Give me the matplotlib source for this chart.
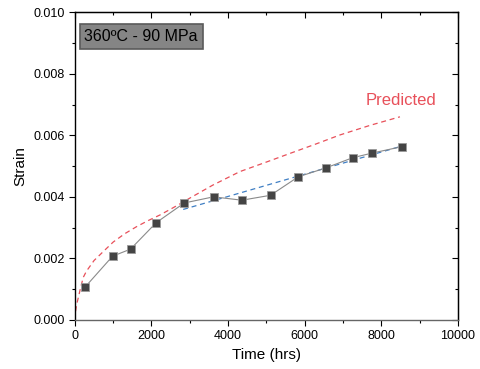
import matplotlib
matplotlib.use("Agg")
import matplotlib.pyplot as plt
from matplotlib.ticker import MultipleLocator, FormatStrFormatter

plt.rcParams['font.family'] = ['Liberation Sans', 'DejaVu Sans']

# measured creep strain
time_hrs = [261, 983, 1453, 2123, 2855, 3620, 4360, 5108, 5831, 6554, 7250, 7755, 8538]
strain = [0.00106, 0.00207, 0.00230, 0.00316, 0.00380, 0.00400, 0.00389, 0.00405,
          0.00465, 0.00494, 0.00527, 0.00542, 0.00563]

# predicted curve
pred_time = [0, 20, 50, 100, 150, 218, 300, 500, 740, 1000, 1300, 1610, 1900, 2220, 2500,
             2785, 3003, 3600, 4308, 5000, 5614, 6300, 6919, 7700, 8486]
pred_strain = [0.0, 0.00030, 0.00052, 0.00078, 0.00105, 0.00138, 0.00158, 0.00193, 0.00222,
               0.00253, 0.00280, 0.00303, 0.00322, 0.00341, 0.00360, 0.00380, 0.00396,
               0.00438, 0.00482, 0.00513, 0.00541, 0.00572, 0.00601, 0.00632, 0.00660]

# linear fit of secondary stage
fit_time = [2828, 8538]
fit_strain = [0.00359, 0.00565]

fig = plt.figure(figsize=(4.8, 3.69), dpi=100)
ax = fig.add_axes([0.156, 0.133, 0.798, 0.834])

ax.plot(pred_time, pred_strain, color='#e8505a', lw=0.9, ls=(0, (4, 3)))
ax.plot(fit_time, fit_strain, color='#3f7fc4', lw=0.9, ls=(0, (4, 3)))
ax.plot(time_hrs, strain, color='#8a8a8a', lw=0.8, marker='s', markersize=6,
        markerfacecolor='#444444', markeredgecolor='#9a9a9a', markeredgewidth=0.6)

ax.set_xlim(0, 10000)
ax.set_ylim(0, 0.010)
ax.xaxis.set_major_locator(MultipleLocator(2000))
ax.xaxis.set_minor_locator(MultipleLocator(1000))
ax.yaxis.set_major_locator(MultipleLocator(0.002))
ax.yaxis.set_minor_locator(MultipleLocator(0.001))
ax.yaxis.set_major_formatter(FormatStrFormatter('%.3f'))
ax.tick_params(which='both', labelsize=9, width=0.8, direction='out')
ax.tick_params(which='major', length=4)
ax.tick_params(which='minor', length=2.5)

# top and right ticks point inward, no labels
top = ax.secondary_xaxis('top')
top.xaxis.set_major_locator(MultipleLocator(2000))
top.xaxis.set_minor_locator(MultipleLocator(1000))
top.tick_params(which='both', direction='in', labeltop=False, width=0.8)
top.tick_params(which='major', length=4)
top.tick_params(which='minor', length=2.5)
right = ax.secondary_yaxis('right')
right.yaxis.set_major_locator(MultipleLocator(0.002))
right.yaxis.set_minor_locator(MultipleLocator(0.001))
right.tick_params(which='both', direction='in', labelright=False, width=0.8)
right.tick_params(which='major', length=4)
right.tick_params(which='minor', length=2.5)

for sp in ax.spines.values():
    sp.set_linewidth(1.0)
ax.spines['bottom'].set_color('#666666')

ax.set_xlabel('Time (hrs)', fontsize=11)
ax.set_ylabel('Strain', fontsize=11)

ax.text(0.025, 0.945, '360ºC - 90 MPa', transform=ax.transAxes, fontsize=11.5,
        va='top', ha='left',
        bbox=dict(boxstyle='square,pad=0.3', facecolor='#858585', edgecolor='#5a5a5a', lw=1.2))
ax.text(9450, 0.00712, 'Predicted', color='#e8505a', fontsize=12, ha='right', va='center')

fig.savefig('out.png', dpi=100)
